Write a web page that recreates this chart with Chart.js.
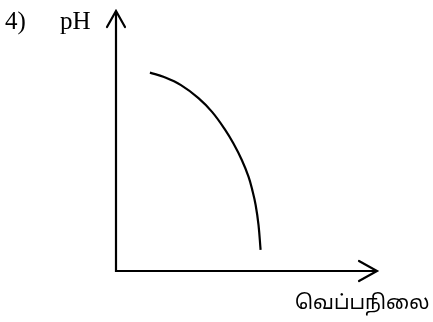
<!DOCTYPE html>
<html>
<head>
<meta charset="utf-8">
<script src="https://cdn.jsdelivr.net/npm/chart.js@4/dist/chart.umd.min.js"></script>
<style>
  html, body { margin: 0; padding: 0; background: #fff; }
  #wrap { position: relative; width: 433px; height: 322px; overflow: hidden; }
  canvas { position: absolute; left: 0; top: 0; }
  .lbl { position: absolute; white-space: nowrap; color: #000; line-height: 1; }
  .serif { font-family: "Liberation Serif", "DejaVu Serif", serif; font-size: 25px; }
  .tamil { font-family: "Noto Sans Tamil", "Lohit Tamil", "Noto Sans", sans-serif; font-size: 20px; }
</style>
</head>
<body>
<div id="wrap">
  <canvas id="c" width="433" height="322"></canvas>
  <span class="lbl serif" style="left:5px; top:8px;">4)</span>
  <span class="lbl serif" style="left:60px; top:8px;">pH</span>
  <span class="lbl tamil" style="left:295px; top:294px;">வெப்பநிலை</span>
</div>
<script>
// Temperature (x) and pH (y) in arbitrary 0–100 units
const temperature = [13.0, 18.4, 24.9, 31.6, 36.8, 41.9, 44.9, 48.2, 50.8, 52.2, 53.5, 54.6, 55.4];
const pH          = [76.3, 74.6, 71.5, 66.5, 61.2, 54.2, 49.2, 42.7, 36.2, 31.2, 25.4, 17.7, 8.1];
const xRange = [0, 100];
const yRange = [0, 100];

const points = temperature.map((t, i) => ({ x: t, y: pH[i] }));

const axesArrows = {
  id: 'axesArrows',
  beforeDatasetsDraw(chart) {
    const { ctx } = chart;
    const xs = chart.scales.x, ys = chart.scales.y;
    const x0 = xs.getPixelForValue(xRange[0]);
    const x1 = xs.getPixelForValue(xRange[1]);
    const y0 = ys.getPixelForValue(yRange[0]);
    const y1 = ys.getPixelForValue(yRange[1]);
    ctx.save();
    ctx.strokeStyle = '#000';
    ctx.lineWidth = 2.2;
    ctx.lineCap = 'butt';
    ctx.beginPath();
    ctx.moveTo(x0, y1 + 1);
    ctx.lineTo(x0, y0);
    ctx.lineTo(x1 - 1, y0);
    ctx.stroke();
    ctx.lineCap = 'round';
    ctx.lineJoin = 'miter';
    ctx.beginPath();
    ctx.moveTo(x0 - 9, y1 + 16);
    ctx.lineTo(x0, y1);
    ctx.lineTo(x0 + 9, y1 + 16);
    ctx.moveTo(x1 - 18, y0 - 10);
    ctx.lineTo(x1, y0);
    ctx.lineTo(x1 - 18, y0 + 10);
    ctx.stroke();
    ctx.restore();
  }
};

new Chart(document.getElementById('c'), {
  type: 'scatter',
  data: {
    datasets: [{
      data: points,
      showLine: true,
      borderColor: '#000',
      borderWidth: 2.2,
      pointRadius: 0,
      tension: 0.4,
      fill: false
    }]
  },
  options: {
    responsive: false,
    animation: false,
    layout: { padding: { left: 116, right: 56, top: 11, bottom: 51 } },
    plugins: { legend: { display: false }, tooltip: { enabled: false } },
    scales: {
      x: { type: 'linear', display: false, min: xRange[0], max: xRange[1] },
      y: { type: 'linear', display: false, min: yRange[0], max: yRange[1] }
    }
  },
  plugins: [axesArrows]
});
</script>
</body>
</html>
